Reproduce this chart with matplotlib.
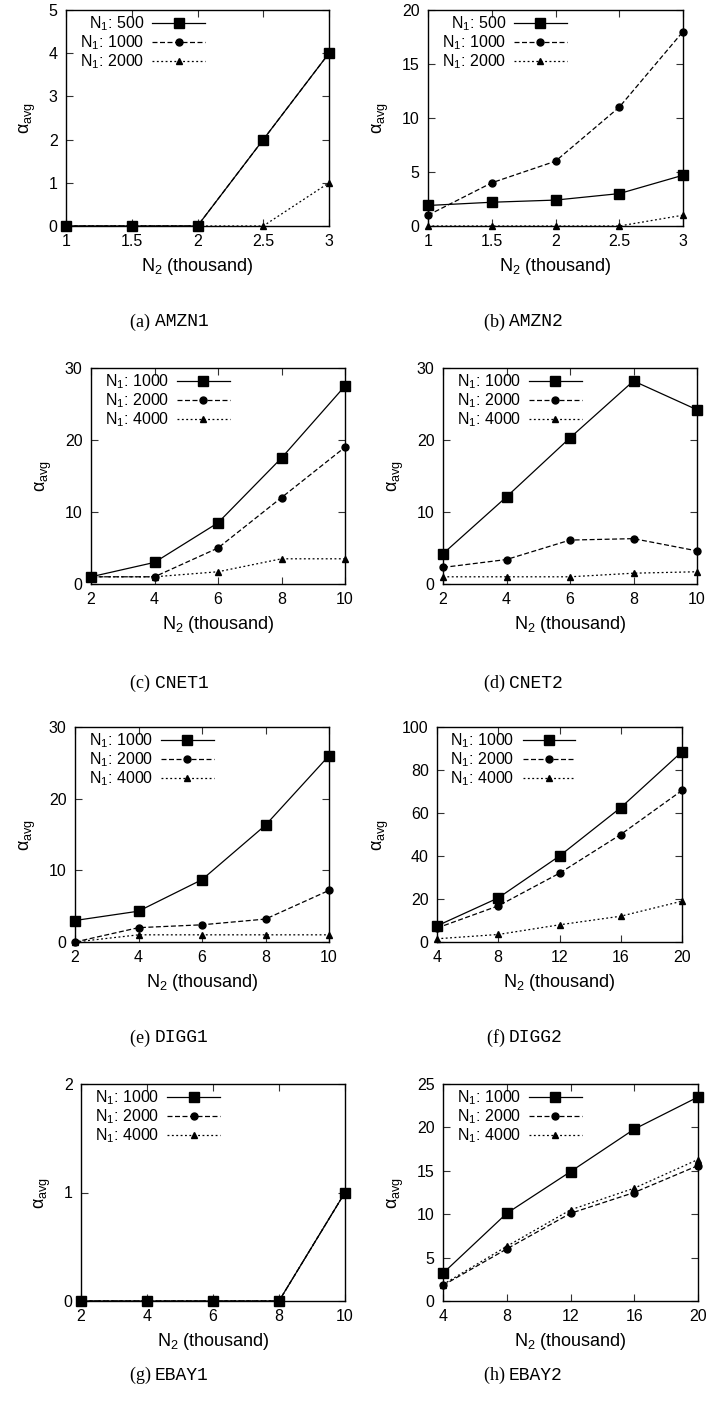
import matplotlib
matplotlib.use("Agg")
import matplotlib.pyplot as plt

plt.rcParams['font.family'] = ['Liberation Sans', 'DejaVu Sans']
plt.rcParams['mathtext.default'] = 'regular'

# ---- data ----
x_amzn = [1, 1.5, 2, 2.5, 3]
x_small = [2, 4, 6, 8, 10]
x_large = [4, 8, 12, 16, 20]

n1_amzn = [500, 1000, 2000]
n1_other = [1000, 2000, 4000]

amzn1_a = [0, 0, 0, 2, 4]
amzn1_b = [0, 0, 0, 2, 4]
amzn1_c = [0, 0, 0, 0, 1]

amzn2_a = [1.9, 2.2, 2.4, 3.0, 4.7]
amzn2_b = [1, 4, 6, 11, 18]
amzn2_c = [0, 0, 0, 0, 1]

cnet1_a = [1, 3, 8.5, 17.5, 27.5]
cnet1_b = [1, 1, 5, 12, 19]
cnet1_c = [1, 1, 1.7, 3.5, 3.5]

cnet2_a = [4.2, 12.1, 20.3, 28.2, 24.2]
cnet2_b = [2.3, 3.4, 6.1, 6.3, 4.6]
cnet2_c = [1, 1, 1, 1.5, 1.7]

digg1_a = [3, 4.3, 8.7, 16.3, 26]
digg1_b = [0, 2, 2.4, 3.2, 7.2]
digg1_c = [0, 1, 1, 1, 1]

digg2_a = [7.5, 20.5, 40, 62.5, 88.5]
digg2_b = [6.5, 16.8, 32, 50, 70.5]
digg2_c = [1.5, 3.5, 8, 12, 19]

ebay1_a = [0, 0, 0, 0, 1]
ebay1_b = [0, 0, 0, 0, 1]
ebay1_c = [0, 0, 0, 0, 1]

ebay2_a = [3.2, 10.1, 14.9, 19.8, 23.5]
ebay2_b = [1.8, 6.0, 10.1, 12.5, 15.6]
ebay2_c = [1.9, 6.3, 10.5, 13.0, 16.3]

panels = [
    ("(a)", "AMZN1", x_amzn, n1_amzn, [amzn1_a, amzn1_b, amzn1_c], [0, 5], [0, 1, 2, 3, 4, 5], ["1", "1.5", "2", "2.5", "3"]),
    ("(b)", "AMZN2", x_amzn, n1_amzn, [amzn2_a, amzn2_b, amzn2_c], [0, 20], [0, 5, 10, 15, 20], ["1", "1.5", "2", "2.5", "3"]),
    ("(c)", "CNET1", x_small, n1_other, [cnet1_a, cnet1_b, cnet1_c], [0, 30], [0, 10, 20, 30], None),
    ("(d)", "CNET2", x_small, n1_other, [cnet2_a, cnet2_b, cnet2_c], [0, 30], [0, 10, 20, 30], None),
    ("(e)", "DIGG1", x_small, n1_other, [digg1_a, digg1_b, digg1_c], [0, 30], [0, 10, 20, 30], None),
    ("(f)", "DIGG2", x_large, n1_other, [digg2_a, digg2_b, digg2_c], [0, 100], [0, 20, 40, 60, 80, 100], None),
    ("(g)", "EBAY1", x_small, n1_other, [ebay1_a, ebay1_b, ebay1_c], [0, 2], [0, 1, 2], None),
    ("(h)", "EBAY2", x_large, n1_other, [ebay2_a, ebay2_b, ebay2_c], [0, 25], [0, 5, 10, 15, 20, 25], None),
]

# axes boxes in pixels: left, top, right, bottom ; caption split x, caption y
boxes = [
    (66, 10, 329, 226, 155, 322),
    (428, 10, 683, 226, 509, 322),
    (91, 368, 345, 584, 155, 683),
    (443, 368, 697, 584, 509, 683),
    (75, 727, 329, 942, 155, 1038),
    (437, 727, 682, 942, 509, 1038),
    (81, 1084, 345, 1301, 155, 1375),
    (443, 1084, 698, 1301, 509, 1375),
]

W, H = 710, 1416
fig = plt.figure(figsize=(W / 100, H / 100), dpi=100)

styles = [
    dict(ls='-', marker='s', ms=6.5),
    dict(ls=(0, (4, 2)), marker='o', ms=5),
    dict(ls=(0, (1.5, 2)), marker='^', ms=4),
]

for (lab, name, xs, n1s, series, ylim, yticks, xtl), (l, t, r, b, cx, cy) in zip(panels, boxes):
    ax = fig.add_axes([l / W, 1 - b / H, (r - l) / W, (b - t) / H])
    for ys, n1, st in zip(series, n1s, styles):
        ax.plot(xs, ys, color='black', lw=0.9, label=f"N$_1$: {n1}",
                clip_on=False, zorder=3, **st)
    ax.set_xlim(xs[0], xs[-1])
    ax.set_ylim(*ylim)
    ax.set_yticks(yticks)
    ax.set_xticks(xs)
    if xtl is not None:
        ax.set_xticklabels(xtl)
    ax.tick_params(direction='in', top=True, right=True, length=5, width=0.8,
                   labelsize=11.5, pad=6, color='#333333')
    for sp in ax.spines.values():
        sp.set_linewidth(1.0)
    ax.set_xlabel("N$_2$ (thousand)", fontsize=13, labelpad=5)
    ax.set_ylabel(r"$\alpha_{avg}$", fontsize=13, labelpad=8)
    ax.legend(loc='upper left', bbox_to_anchor=(0.035, 1.0), frameon=False,
              markerfirst=False, fontsize=11.5,
              handlelength=3.3, handletextpad=0.5, labelspacing=0.0,
              borderaxespad=0.1, borderpad=0.2)
    fig.text(cx / W, 1 - cy / H, lab + " ", ha='right', va='center',
             family='Liberation Serif', fontsize=13)
    fig.text(cx / W, 1 - cy / H, name, ha='left', va='center',
             family='Liberation Mono', fontsize=13)

fig.savefig("out.png", dpi=100)
